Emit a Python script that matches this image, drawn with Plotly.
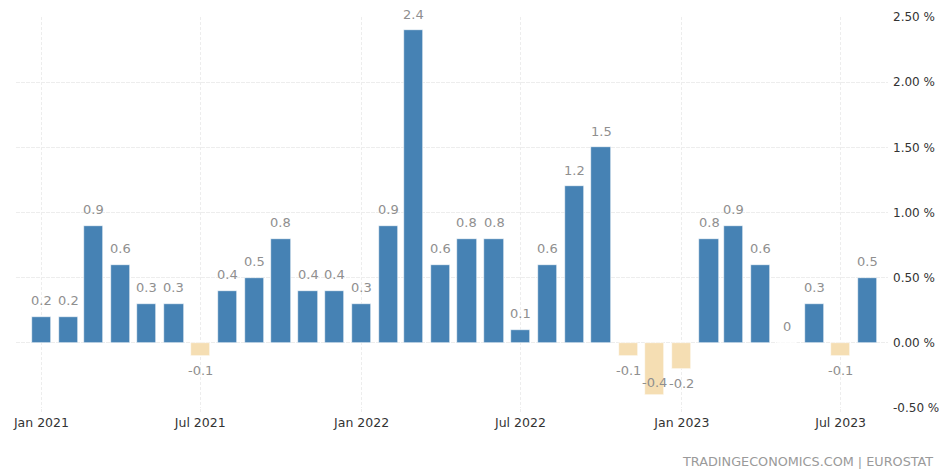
import pandas as pd
import plotly.graph_objects as go

# Monthly change, Jan 2021 - Aug 2023 (percent)
months = pd.date_range("2021-01-01", "2023-08-01", freq="MS")
values = [0.2, 0.2, 0.9, 0.6, 0.3, 0.3, -0.1, 0.4, 0.5, 0.8, 0.4, 0.4,
          0.3, 0.9, 2.4, 0.6, 0.8, 0.8, 0.1, 0.6, 1.2, 1.5, -0.1, -0.4,
          -0.2, 0.8, 0.9, 0.6, 0, 0.3, -0.1, 0.5]
y_ticks = [-0.5, 0.0, 0.5, 1.0, 1.5, 2.0, 2.5]
source_note = "TRADINGECONOMICS.COM | EUROSTAT"

POS_COLOR = "#4682B4"
NEG_COLOR = "#F5DEB3"
LABEL_COLOR = "#8f8f8f"
GRID_COLOR = "#ededed"
FONT = "DejaVu Sans"

W, H = 942, 469
M_L, M_R, M_T, M_B = 16, 54, 17, 61
Y_MIN, Y_MAX = -0.5, 2.5
px_per_unit = (H - M_T - M_B) / (Y_MAX - Y_MIN)

fig = go.Figure()
fig.add_trace(go.Bar(
    x=months,
    y=values,
    width=22 * 86400000,
    marker=dict(color=[POS_COLOR if v >= 0 else NEG_COLOR for v in values],
                line=dict(color="white", width=0.6)),
    hoverinfo="x+y",
))

# value labels above positive bars, below negative ones (inside if no room)
for m, v in zip(months, values):
    if v >= 0:
        shift = 16
    else:
        end_px = v * px_per_unit
        center = end_px - 15
        if center - 7 < Y_MIN * px_per_unit:
            shift = 12
        else:
            shift = -15
    fig.add_annotation(
        x=m, y=v, text=f"{v:g}", showarrow=False,
        yshift=shift, yanchor="middle", xanchor="center",
        font=dict(family=FONT, size=13, color=LABEL_COLOR),
    )

fig.add_annotation(
    x=1, y=0, xref="paper", yref="paper", xanchor="right", yanchor="top",
    xshift=47, yshift=-44, showarrow=False, text=source_note,
    font=dict(family=FONT, size=12.8, color="#9a9a9a"),
)

fig.update_layout(
    width=W, height=H,
    margin=dict(l=M_L, r=M_R, t=M_T, b=M_B, autoexpand=False),
    paper_bgcolor="white", plot_bgcolor="white",
    showlegend=False,
    bargap=0,
    xaxis=dict(
        type="date",
        range=["2020-12-03", "2023-08-24"],
        tick0="2021-01-01", dtick="M6", tickformat="%b %Y",
        showgrid=True, gridcolor=GRID_COLOR, griddash="3px,2px", gridwidth=1,
        ticks="outside", ticklen=3, tickcolor=GRID_COLOR,
        tickfont=dict(family=FONT, size=12.5, color="#333333"),
        showline=False, zeroline=False, automargin=False,
    ),
    yaxis=dict(
        side="right",
        range=[Y_MIN, Y_MAX],
        tickvals=y_ticks,
        ticktext=[f"{t:.2f} %" for t in y_ticks],
        showgrid=True, gridcolor=GRID_COLOR, griddash="4px,1px", gridwidth=1,
        ticks="", ticklabelstandoff=4,
        tickfont=dict(family=FONT, size=12, color="#333333"),
        showline=False, zeroline=False, automargin=False,
    ),
)

fig.write_html("out.html")
